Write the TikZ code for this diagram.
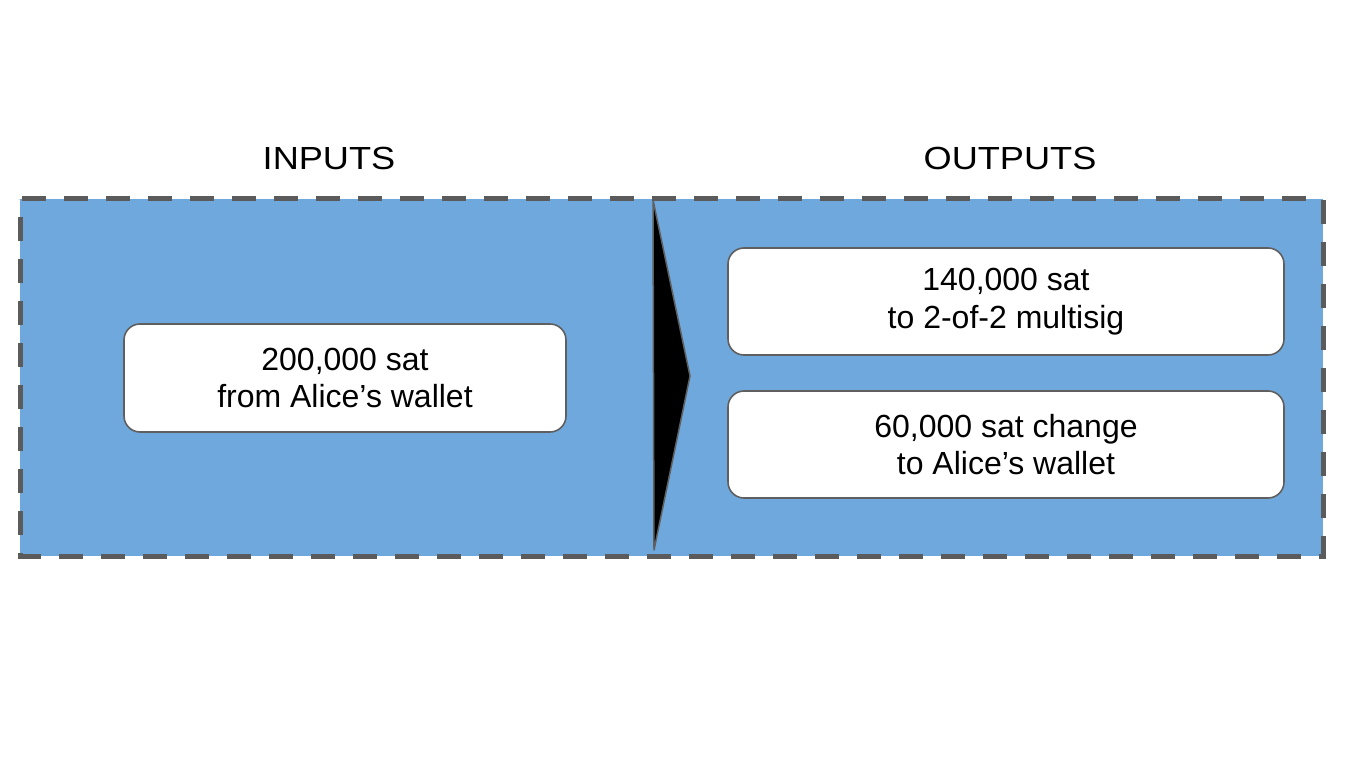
\documentclass[tikz,border=0pt]{standalone}
\usepackage{fontspec}
\setmainfont{Liberation Sans}
\newfontfamily\titlefont[FakeStretch=1.13]{Liberation Sans}
\definecolor{panelblue}{HTML}{6FA8DC}
\definecolor{edgegray}{HTML}{5B5B5B}
\definecolor{boxgray}{HTML}{5F5F5F}
\begin{document}
\begin{tikzpicture}[x=1pt,y=-1pt,
  title/.style={font=\titlefont\fontsize{32}{38}\selectfont, anchor=center, inner sep=0pt},
  amountbox/.style={draw=boxgray, line width=1.6pt, fill=white, rounded corners=16pt,
    minimum width=#1, align=center, inner sep=0pt,
    font=\fontsize{32}{37.5}\selectfont},
  amountbox/.default=442pt]
\useasboundingbox (0,0) rectangle (1345,757);
% panel
\fill[panelblue] (20,199) rectangle (1323,556);
% separator arrow
\filldraw[fill=black, draw=boxgray, line width=1.5pt, line join=round]
  (653,200) -- (690,376) -- (654,550) -- cycle;
% titles
\node[title] (inputs) at (329,158) {INPUTS};
\node[title] (outputs) at (1010,158) {OUTPUTS};
% boxes
\node[amountbox=442pt, minimum height=108pt] (in1) at (345,378)
  {200,000 sat\\from Alice’s wallet};
\node[amountbox=556pt, minimum height=107pt] (out1) at (1006,301.5)
  {140,000 sat\\to 2-of-2 multisig};
\node[amountbox=556pt, minimum height=107pt] (out2) at (1006,444.5)
  {60,000 sat change\\to Alice’s wallet};
% dashed border
\draw[edgegray, line width=5pt, dash pattern=on 24pt off 18pt, dash phase=-2pt]
  (20,199) -- (1323,199) -- (1323,556) -- (20,556) -- cycle;
\end{tikzpicture}
\end{document}
